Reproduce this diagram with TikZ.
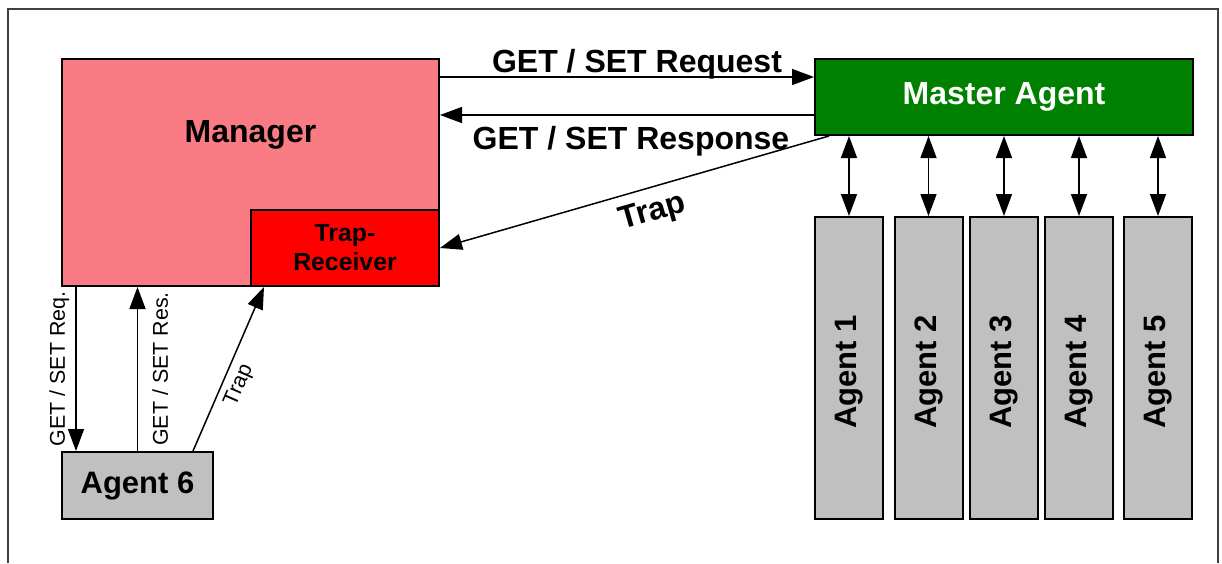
\documentclass[tikz,border=0pt]{standalone}
\usepackage{graphicx}
\usepackage{fontspec}
\setmainfont{Liberation Sans}
\usetikzlibrary{positioning,arrows.meta,calc}

\definecolor{mgrpink}{RGB}{249,124,132}
\definecolor{mastergreen}{RGB}{0,128,0}
\definecolor{agentgray}{RGB}{192,192,192}

\begin{document}
\begin{tikzpicture}[x=0.5pt, y=-0.5pt,
              >={Triangle[length=11pt,width=8pt]},
              box/.style = {shape=rectangle, draw, line width=1pt, inner sep=0pt,
                font=\fontsize{15.5}{18}\selectfont\bfseries},
              agentbox/.style = {box, fill=agentgray, minimum width=34pt, minimum height=151pt},
              link/.style = {line width=0.75pt},
              biglbl/.style = {font=\fontsize{16}{19}\selectfont\bfseries, inner sep=2pt},
              smalllbl/.style = {font=\fontsize{10.7}{13}\selectfont, inner sep=2pt}]
  \useasboundingbox (0,0) rectangle (1222,563);
  \draw[black!75, line width=0.6pt] (8,563) -- (8,9) -- (1218,9) -- (1218,563);

  % manager side
  \node[box, fill=mgrpink, minimum width=188.5pt, minimum height=113.5pt,
        label={[biglbl, yshift=19pt]center:Manager}] (mgr) at (250.5,172.5) {};
  \node[box, fill=red, minimum width=94pt, minimum height=38pt, align=center,
        font=\fontsize{12.4}{14.5}\selectfont\bfseries] (trap) at (345,248) {Trap-\\Receiver};
  \node[box, fill=agentgray, minimum width=75.5pt, minimum height=33.5pt] (agent6) at (137.5,485.5) {Agent 6};

  % master agent and its agents
  \node[box, fill=mastergreen, text=white, minimum width=189pt, minimum height=38pt,
        font=\fontsize{16}{19}\selectfont\bfseries] (master) at (1004,97) {Master Agent};
  \foreach \i/\x in {1/849, 2/928.5, 3/1004, 4/1079, 5/1158}
    \node[agentbox] (agent\i) at (\x,368) {\rotatebox{90}{Agent \i\hspace*{4pt}}};

  \draw[link,->] ($(mgr.north east)+(0,19)$) -- node[biglbl, anchor=base, yshift=2.5pt, xshift=5pt] {GET / SET Request} ($(master.north west)+(0,19)$);
  \draw[link,->] ($(master.north west)+(0,57)$) -- node[biglbl, anchor=base, yshift=-17pt, xshift=2pt] {GET / SET Response} ($(mgr.north east)+(0,57)$);
  \draw[link,->] ($(master.south west)+(15,0)$) -- node[biglbl, pos=0.47, sloped, below=3pt] {Trap} (trap.east);
  \foreach \i in {1,...,5}
    \draw[link,<->] (agent\i.north |- master.south) -- (agent\i.north);

  \draw[link,->] ($(mgr.south west)+(15,0)$) -- node[smalllbl, midway, rotate=90, anchor=south, inner sep=3pt] {GET / SET Req.} ($(agent6.north west)+(15,0)$);
  \draw[link,->] (agent6.north) -- node[smalllbl, midway, rotate=90, anchor=north, inner sep=7pt] {GET / SET Res.} (agent6.north |- mgr.south);
  \draw[link,->] ($(agent6.north east)+(-21,0)$) -- node[smalllbl, pos=0.44, sloped, below=1pt] {Trap} ($(trap.south west)+(14,0)$);
\end{tikzpicture}
\end{document}
